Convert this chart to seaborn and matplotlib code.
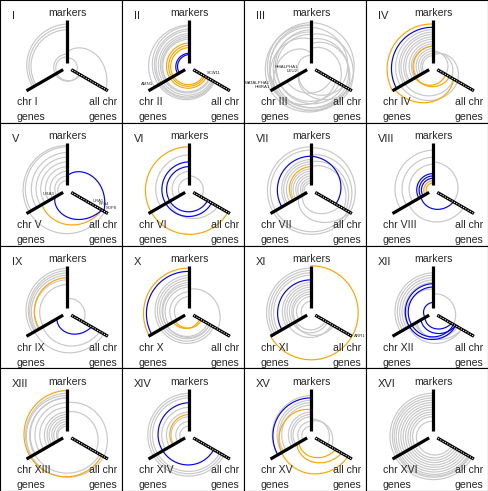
import numpy as np
import pandas as pd
import seaborn as sns
import matplotlib.pyplot as plt

sns.set_style('white')
plt.rcParams['font.family'] = ['Liberation Sans', 'DejaVu Sans']

# panel names (chromosomes)
panels = ['I', 'II', 'III', 'IV', 'V', 'VI', 'VII', 'VIII',
          'IX', 'X', 'XI', 'XII', 'XIII', 'XIV', 'XV', 'XVI']

# edges: (route, radius at start, radius at end, colour)
# L = markers->chr genes, B = chr genes->all chr genes,
# R = markers->all chr (right side), W = markers->all chr (round the left)
arcs_I = [('L', .92, .84, 'g'), ('L', .86, .80, 'g'), ('L', .80, .76, 'g'),
          ('R', .32, .95, 'g'), ('W', .28, .30, 'g'), ('L', .22, .25, 'g'),
          ('B', .25, .32, 'g'), ('R', .20, .22, 'g')]
arcs_II = [('W', .88, .62, 'g'), ('W', .82, .60, 'g'), ('W', .78, .58, 'g'),
           ('W', .72, .55, 'g'), ('W', .68, .50, 'g'), ('W', .64, .48, 'g'),
           ('L', .90, .85, 'g'), ('L', .60, .55, 'g'),
           ('W', .52, .42, 'o'), ('W', .47, .38, 'o'), ('W', .42, .35, 'o'),
           ('L', .30, .28, 'b'), ('L', .27, .24, 'b')]
arcs_III = [('W', .95, .90, 'g'), ('W', .90, .85, 'g'), ('W', .85, .95, 'g'),
            ('W', .80, .70, 'g'), ('W', .75, .90, 'g'), ('W', .70, .80, 'g'),
            ('R', .95, .90, 'g'), ('R', .85, .75, 'g'), ('R', .70, .95, 'g'),
            ('R', .60, .85, 'g'), ('R', .50, .90, 'g'), ('R', .40, .70, 'g'),
            ('L', .90, 1.0, 'g'), ('L', .60, .95, 'g'), ('L', .30, .90, 'g'),
            ('L', .25, .30, 'g'), ('B', 1.0, .90, 'g'), ('B', .30, .80, 'g'),
            ('B', .95, .60, 'g'), ('B', .30, .95, 'g'), ('B', .60, .50, 'g')]
arcs_IV = [('L', .80, .80, 'g'), ('L', .75, .72, 'g'), ('L', .70, .68, 'g'),
           ('L', .65, .62, 'g'), ('L', .60, .58, 'g'), ('L', .55, .50, 'g'),
           ('L', .50, .45, 'g'), ('L', .45, .40, 'g'), ('L', .40, .35, 'g'),
           ('L', .35, .30, 'g'), ('L', .30, .25, 'g'), ('L', .25, .22, 'g'),
           ('R', .30, .45, 'g'), ('R', .25, .60, 'g'), ('R', .35, .30, 'g'),
           ('B', .80, .60, 'g'), ('B', .70, .50, 'g'),
           ('L', .92, 1.0, 'o'), ('W', .45, .40, 'o'), ('B', .95, .50, 'o'),
           ('B', .45, .30, 'o'), ('L', .85, .90, 'b')]
arcs_V = [('L', .92, .88, 'g'), ('L', .80, .75, 'g'), ('L', .70, .65, 'g'),
          ('L', .60, .55, 'g'), ('L', .50, .45, 'g'), ('L', .40, .35, 'g'),
          ('L', .30, .25, 'g'), ('L', .20, .20, 'g'), ('W', .95, .92, 'g'),
          ('B', .62, .85, 'o'), ('R', .30, .90, 'b'), ('B', .30, .85, 'b')]
arcs_VI = [('L', .75, .70, 'g'), ('L', .40, .35, 'g'), ('R', .30, .30, 'g'),
           ('L', .25, .22, 'g'), ('B', .50, .70, 'g'),
           ('W', .92, .95, 'o'), ('W', .60, .55, 'b'), ('W', .50, .45, 'b')]
arcs_VII = [('L', .65, .62, 'g'), ('L', .60, .58, 'g'), ('L', .55, .52, 'g'),
            ('L', .45, .42, 'g'), ('L', .40, .38, 'g'), ('L', .35, .32, 'g'),
            ('L', .30, .28, 'g'), ('L', .25, .22, 'g'), ('L', .20, .18, 'g'),
            ('L', .15, .15, 'g'), ('R', .90, .95, 'g'), ('R', .75, .90, 'g'),
            ('R', .60, .85, 'g'), ('R', .50, .80, 'g'), ('W', .92, .95, 'g'),
            ('W', .85, .90, 'g'), ('B', .30, .95, 'g'), ('B', .20, .70, 'g'),
            ('L', .50, .45, 'o'), ('L', .72, .72, 'b'), ('R', .72, .60, 'b')]
arcs_VIII = [('L', .85, .80, 'g'), ('L', .70, .65, 'g'), ('L', .55, .50, 'g'),
             ('R', .60, .50, 'g'), ('B', .60, .75, 'g'),
             ('L', .35, .35, 'b'), ('L', .30, .30, 'b'), ('L', .25, .25, 'b'),
             ('B', .30, .50, 'b'), ('L', .20, .20, 'o'), ('L', .15, .15, 'o')]
arcs_IX = [('L', .95, .85, 'g'), ('L', .90, .80, 'g'), ('L', .85, .78, 'g'),
           ('L', .80, .75, 'g'), ('L', .70, .70, 'g'), ('L', .60, .58, 'g'),
           ('R', .30, .40, 'g'), ('B', .60, .80, 'g'), ('B', .80, .90, 'g'),
           ('L', .75, .68, 'o'), ('B', .25, .60, 'b')]
arcs_X = [('W', .80, .60, 'g'), ('W', .75, .55, 'g'), ('W', .70, .50, 'g'),
          ('W', .65, .45, 'g'), ('W', .60, .50, 'g'), ('L', .55, .50, 'g'),
          ('L', .45, .40, 'g'), ('L', .35, .30, 'g'), ('R', .50, .70, 'g'),
          ('L', .95, .98, 'o'), ('B', .35, .30, 'o'), ('B', .40, .25, 'o'),
          ('L', .88, .92, 'b')]
arcs_XI = [('L', .95, .95, 'g'), ('L', .90, .90, 'g'), ('L', .85, .85, 'g'),
           ('L', .80, .80, 'g'), ('L', .65, .60, 'g'), ('L', .55, .50, 'g'),
           ('L', .45, .40, 'g'), ('L', .35, .30, 'g'), ('L', .25, .20, 'g'),
           ('W', .60, .50, 'g'), ('W', .50, .40, 'g'), ('W', .40, .35, 'g'),
           ('B', .40, .55, 'g'), ('R', 1.0, 1.0, 'o'), ('B', 1.0, 1.0, 'o'),
           ('L', .70, .72, 'b')]
arcs_XII = [('L', .85, .80, 'g'), ('L', .80, .75, 'g'), ('L', .75, .70, 'g'),
            ('L', .70, .65, 'g'), ('L', .65, .60, 'g'), ('W', .50, .70, 'g'),
            ('B', .45, .60, 'g'), ('B', .40, .70, 'g'), ('R', .40, .50, 'g'),
            ('W', .62, .55, 'b'), ('W', .55, .50, 'b'), ('B', .30, .55, 'b'),
            ('B', .20, .45, 'b'), ('L', .22, .20, 'b')]
arcs_XIII = [('L', .90, .88, 'g'), ('L', .80, .78, 'g'), ('L', .70, .68, 'g'),
             ('L', .60, .58, 'g'), ('L', .50, .48, 'g'), ('L', .45, .42, 'g'),
             ('L', .40, .38, 'g'), ('L', .35, .32, 'g'), ('L', .30, .28, 'g'),
             ('L', .25, .22, 'g'), ('L', .20, .20, 'g'), ('R', .70, .90, 'g'),
             ('R', .50, .70, 'g'), ('W', .85, .90, 'g'), ('W', .80, .80, 'g'),
             ('W', .96, .85, 'o')]
arcs_XIV = [('W', .90, .85, 'g'), ('W', .85, .80, 'g'), ('W', .80, .75, 'g'),
            ('L', .60, .58, 'g'), ('L', .50, .48, 'g'), ('L', .40, .38, 'g'),
            ('L', .30, .28, 'g'), ('L', .20, .20, 'g'),
            ('L', .45, .40, 'o'), ('W', .70, .60, 'b')]
arcs_XV = [('L', .85, .82, 'g'), ('L', .75, .72, 'g'), ('L', .70, .68, 'g'),
           ('L', .65, .62, 'g'), ('L', .50, .48, 'g'), ('L', .45, .42, 'g'),
           ('L', .40, .38, 'g'), ('L', .30, .28, 'g'), ('L', .20, .20, 'g'),
           ('R', .35, .40, 'g'), ('R', .30, .50, 'g'),
           ('W', .55, .90, 'o'), ('B', .35, .75, 'o'), ('B', .30, .60, 'o'),
           ('L', .80, .82, 'b')]
arcs_XVI = [('W', .90, .95, 'g'), ('W', .85, .90, 'g'), ('W', .80, .88, 'g'),
            ('W', .75, .85, 'g'), ('W', .70, .80, 'g'), ('W', .65, .75, 'g'),
            ('W', .60, .70, 'g'), ('W', .55, .65, 'g'), ('W', .50, .60, 'g'),
            ('W', .45, .55, 'g'), ('W', .40, .50, 'g'), ('W', .30, .45, 'g')]

# gene labels: (axis, radius, text)
genes_II = [('chr', .85, 'AMN1'), ('all', .40, 'SCW11')]
genes_III = [('chr', .30, 'HMALPHA1\nLEU2'), ('chr', 1.0, 'MATALPHA1\nHMRA1')]
genes_V = [('chr', .30, 'URA3'), ('all', .60, 'URA1'), ('all', .76, 'RPA4'),
           ('all', .92, 'SOP8')]
genes_XI = [('all', 1.0, 'ARR1')]

arcs = [arcs_I, arcs_II, arcs_III, arcs_IV, arcs_V, arcs_VI, arcs_VII, arcs_VIII,
        arcs_IX, arcs_X, arcs_XI, arcs_XII, arcs_XIII, arcs_XIV, arcs_XV, arcs_XVI]
genes = {'II': genes_II, 'III': genes_III, 'V': genes_V, 'XI': genes_XI}

routes = {'L': (90, 210), 'B': (210, 330), 'R': (90, -30), 'W': (90, 330)}
axis_ang = {'mk': 90, 'chr': 210, 'all': 330}
pal = {'g': '#c8c8c8', 'o': '#ffa500', 'b': '#0000ff'}

fig = plt.figure(figsize=(4.88, 4.91), dpi=100)

for i, name in enumerate(panels):
    row, col = divmod(i, 4)
    ax = fig.add_axes([col * 0.25, 1 - (row + 1) * 0.25, 0.25, 0.25])

    # edges as arcs round the centre
    rows = []
    t = np.linspace(0, 1, 80)
    for k, (rt, r0, r1, c) in enumerate(arcs[i]):
        a0, a1 = routes[rt]
        ang = np.radians(a0 + (a1 - a0) * t)
        rr = r0 + (r1 - r0) * t
        rows.append(pd.DataFrame({'x': rr * np.cos(ang), 'y': rr * np.sin(ang),
                                  'id': k, 'col': c}))
    df = pd.concat(rows, ignore_index=True)
    sns.lineplot(data=df, x='x', y='y', units='id', estimator=None, sort=False,
                 hue='col', hue_order=['g', 'o', 'b'], palette=pal,
                 lw=0.85, legend=False, ax=ax)

    # hive axes
    for key, a in axis_ang.items():
        ca, sa = np.cos(np.radians(a)), np.sin(np.radians(a))
        ax.plot([0.1 * ca, ca], [0.1 * sa, sa], color='black', lw=2.3,
                solid_capstyle='butt', zorder=3)
        if key == 'all':
            ax.plot([0.12 * ca, 0.98 * ca], [0.12 * sa, 0.98 * sa], color='white',
                    lw=0.7, ls=(0, (1.2, 1.5)), zorder=4)

    # gene labels
    for ax_key, r, txt in genes.get(name, []):
        a = np.radians(axis_ang[ax_key])
        x, y = r * np.cos(a), r * np.sin(a)
        if ax_key == 'chr':
            ax.text(x - 0.02, y + 0.03, txt, ha='right', va='bottom',
                    fontsize=3.2, linespacing=1.0, zorder=5)
        elif r > 0.95:
            ax.text(x + 0.04, y, txt, ha='left', va='center', fontsize=3.2, zorder=5)
        else:
            ax.text(x + 0.02, y + 0.03, txt, ha='left', va='bottom',
                    fontsize=3.0, zorder=5)

    # axis names and panel title
    ax.text(0, 1.15, 'markers', ha='center', va='center', fontsize=7.6)
    ax.text(-1.17, 1.09, name, ha='left', va='center', fontsize=8)
    ax.text(-1.07, -0.74, 'chr ' + name, ha='left', va='center', fontsize=7.6)
    ax.text(-1.07, -1.06, 'genes', ha='left', va='center', fontsize=7.6)
    ax.text(1.06, -0.74, 'all chr', ha='right', va='center', fontsize=7.6)
    ax.text(1.06, -1.06, 'genes', ha='right', va='center', fontsize=7.6)

    ax.set_xlim(-1.43, 1.166)
    ax.set_ylim(-1.18, 1.432)
    ax.set_xticks([])
    ax.set_yticks([])
    ax.set_xlabel('')
    ax.set_ylabel('')
    for s in ax.spines.values():
        s.set_color('black')
        s.set_linewidth(0.8)

fig.savefig('out.png', dpi=100)
